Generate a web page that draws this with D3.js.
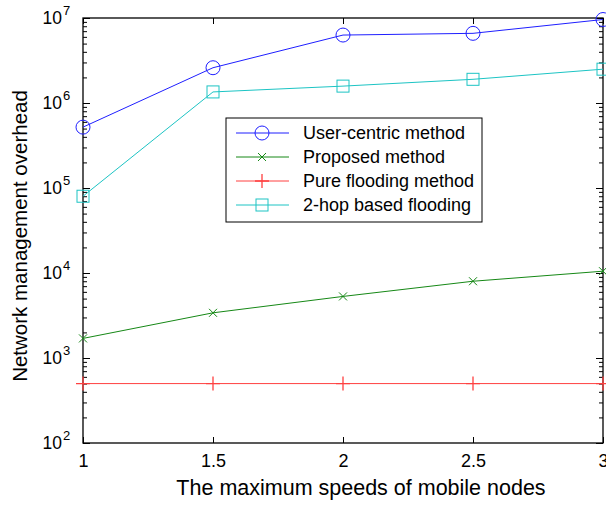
<!DOCTYPE html>
<html>
<head>
<meta charset="utf-8">
<script src="https://cdn.jsdelivr.net/npm/d3@7/dist/d3.min.js"></script>
<style>
body { margin: 0; background: #fff; }
svg { font-family: "Liberation Sans", Arial, sans-serif; }
</style>
</head>
<body>
<div id="chart"></div>
<script>
// data
const speeds = [1, 1.5, 2, 2.5, 3];
const userCentric = [5.2e5, 2.6e6, 6.3e6, 6.6e6, 9.6e6];
const proposed = [1.7e3, 3.4e3, 5.3e3, 8.0e3, 1.05e4];
const pureFlooding = [500, 500, 500, 500, 500];
const twoHop = [8.0e4, 1.35e6, 1.58e6, 1.9e6, 2.5e6];
const xTicks = [1, 1.5, 2, 2.5, 3];
const yDecades = [2, 3, 4, 5, 6, 7];

const seriesNames = ["User-centric method", "Proposed method", "Pure flooding method", "2-hop based flooding"];

const svgWidth = 606, svgHeight = 505;
const margin = {top: 18, right: 3, bottom: 62, left: 83};
const width = svgWidth - margin.left - margin.right;
const height = svgHeight - margin.top - margin.bottom;

const svg = d3.select("#chart").append("svg")
  .attr("width", svgWidth)
  .attr("height", svgHeight);

const g = svg.append("g")
  .attr("transform", `translate(${margin.left}, ${margin.top})`);

const x = d3.scaleLinear().domain([1, 3]).range([0, width]);
const y = d3.scaleLog().domain([1e2, 1e7]).range([height, 0]);

// minor log ticks
let minors = [];
yDecades.slice(0, -1).forEach(e => {
  for (let m = 2; m <= 9; m++) minors.push(m * Math.pow(10, e));
});
const majors = yDecades.map(e => Math.pow(10, e));

function styleAxis(sel) {
  sel.select(".domain").remove();
  sel.selectAll("line").attr("stroke", "#000").attr("stroke-width", 1);
}

// left + right axes
g.append("g").call(d3.axisLeft(y).tickValues(majors).tickSize(-7).tickFormat("")).call(styleAxis);
g.append("g").call(d3.axisLeft(y).tickValues(minors).tickSize(-4).tickFormat("")).call(styleAxis);
g.append("g").attr("transform", `translate(${width},0)`)
  .call(d3.axisRight(y).tickValues(majors).tickSize(-7).tickFormat("")).call(styleAxis);
g.append("g").attr("transform", `translate(${width},0)`)
  .call(d3.axisRight(y).tickValues(minors).tickSize(-4).tickFormat("")).call(styleAxis);

// bottom + top axes
const xAxis = g.append("g").attr("transform", `translate(0,${height})`)
  .call(d3.axisBottom(x).tickValues(xTicks).tickSize(-6).tickPadding(12).tickFormat(d3.format("")));
xAxis.select(".domain").remove();
xAxis.selectAll("line").attr("stroke", "#000");
xAxis.selectAll("text").attr("font-size", 18).attr("fill", "#000")
  .attr("dy", null).attr("y", 24)
  .attr("font-family", "Liberation Sans, Arial, sans-serif");
g.append("g").call(d3.axisTop(x).tickValues(xTicks).tickSize(-6).tickFormat("")).call(styleAxis);

// decade labels 10^n
const yLab = g.append("g");
yDecades.forEach(e => {
  const yy = y(Math.pow(10, e));
  yLab.append("text")
    .attr("x", -21).attr("y", yy + 6)
    .attr("text-anchor", "end")
    .attr("font-size", 17.5)
    .text("10");
  yLab.append("text")
    .attr("x", -20).attr("y", yy - 3)
    .attr("font-size", 13)
    .text(e);
});

// plot box
g.append("rect")
  .attr("width", width).attr("height", height)
  .attr("fill", "none").attr("stroke", "#000").attr("stroke-width", 1.3);

const colors = ["#1f1fff", "#168816", "#ff4040", "#1cc4c4"];
const allSeries = [userCentric, proposed, pureFlooding, twoHop];
const markers = ["circle", "x", "plus", "square"];

const line = d3.line().x((d, i) => x(speeds[i])).y(d => y(d));

function drawMarker(sel, type, color) {
  if (type === "circle") {
    sel.append("circle").attr("r", 7).attr("fill", "none").attr("stroke", color);
  } else if (type === "square") {
    sel.append("rect").attr("x", -6).attr("y", -6).attr("width", 12).attr("height", 12)
      .attr("fill", "none").attr("stroke", color);
  } else if (type === "x") {
    sel.append("path").attr("d", "M-4,-4L4,4M-4,4L4,-4").attr("stroke", color);
  } else {
    sel.append("path").attr("d", "M-7,0L7,0M0,-7L0,7").attr("stroke", color).attr("stroke-width", 1.3);
  }
}

allSeries.forEach((s, k) => {
  g.append("path").datum(s)
    .attr("d", line)
    .attr("fill", "none")
    .attr("stroke", colors[k])
    .attr("stroke-width", 1);
  s.forEach((v, i) => {
    const m = g.append("g").attr("transform", `translate(${x(speeds[i])},${y(v)})`);
    drawMarker(m, markers[k], colors[k]);
  });
});

// legend
const legend = svg.append("g").attr("transform", "translate(226,118)");
legend.append("rect")
  .attr("width", 256).attr("height", 104)
  .attr("fill", "#fff").attr("stroke", "#000").attr("stroke-width", 1);
seriesNames.forEach((name, k) => {
  const ly = 15 + k * 24;
  legend.append("line")
    .attr("x1", 10).attr("x2", 63).attr("y1", ly).attr("y2", ly)
    .attr("stroke", colors[k]);
  const m = legend.append("g").attr("transform", `translate(36,${ly})`);
  drawMarker(m, markers[k], colors[k]);
  legend.append("text")
    .attr("x", 77).attr("y", ly + 6)
    .attr("font-size", 18)
    .text(name);
});

// axis titles
svg.append("text")
  .attr("x", 361).attr("y", 495)
  .attr("text-anchor", "middle")
  .attr("font-size", 21.5)
  .text("The maximum speeds of mobile nodes");

svg.append("text")
  .attr("transform", "translate(27, 236) rotate(-90)")
  .attr("text-anchor", "middle")
  .attr("font-size", 20.5)
  .text("Network management overhead");
</script>
</body>
</html>
